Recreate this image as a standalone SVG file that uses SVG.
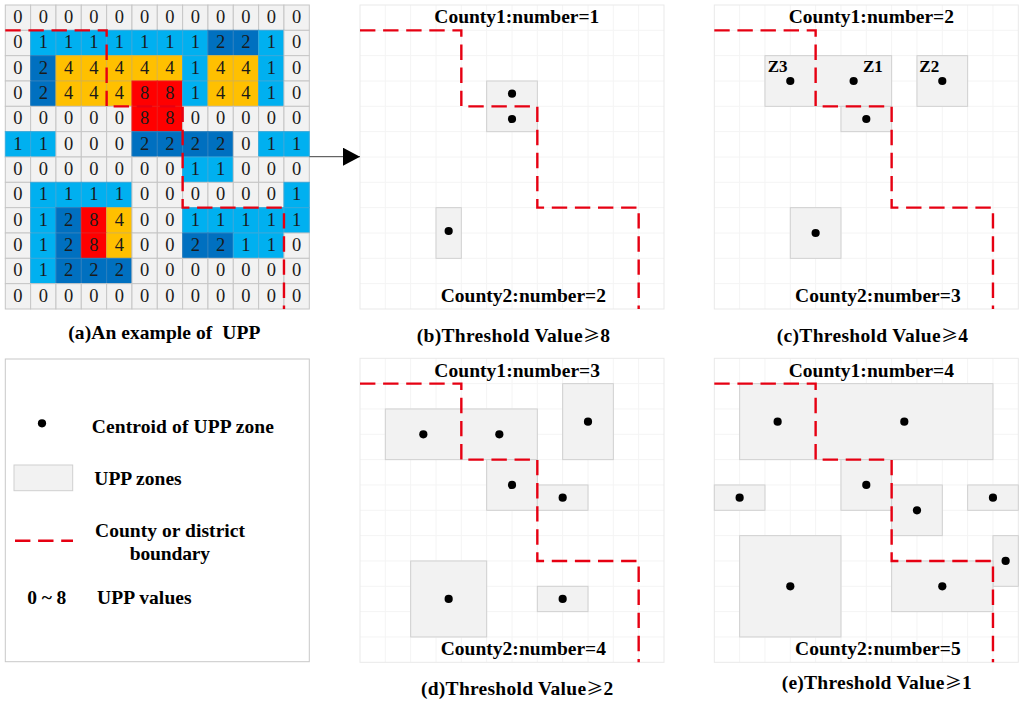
<svg xmlns="http://www.w3.org/2000/svg" xmlns:xlink="http://www.w3.org/1999/xlink" width="1024" height="703" viewBox="0 0 1024 703">
<style>
text{font-family:"Liberation Serif","Times New Roman",serif;fill:#000}
.t{font-weight:bold;font-size:19.5px}
.ge{font-family:"Noto Sans CJK SC","Liberation Serif",serif;font-weight:400;font-size:17px}
.l{font-weight:bold;font-size:17px}
.n{font-size:18.5px;text-anchor:middle;fill:#1a1a1a}
.c{width:25.33px;height:25.33px;y:-18px;stroke-width:1}
.z{fill:#f2f2f2;stroke:#c6c6c6}
.b{fill:#00b0f0;stroke:#35a9dc}
.d{fill:#0070c0;stroke:#2a7fbe}
.o{fill:#ffc000;stroke:#dcb440}
.r{fill:#ff0000;stroke:#ee1a1a}
.zone{fill:#f2f2f2;stroke:#d0d0d0;stroke-width:1}
.dot{fill:#000}
.bd{fill:none;stroke:#e60012;stroke-width:2.4;stroke-dasharray:15.4 7.7}
.gl{fill:none;stroke:#f4f4f4;stroke-width:1}
.fr{fill:none;stroke:#e9e9e9;stroke-width:1}
</style>
<defs>
<g id="pg">
<path class="gl" d="M25.33 0V304M50.67 0V304M76 0V304M101.33 0V304M126.67 0V304M152 0V304M177.33 0V304M202.67 0V304M228 0V304M253.33 0V304M278.67 0V304M0 25.33H304M0 50.67H304M0 76H304M0 101.33H304M0 126.67H304M0 152H304M0 177.33H304M0 202.67H304M0 228H304M0 253.33H304M0 278.67H304"/>
<rect class="fr" x="0" y="0" width="304" height="304"/>
</g>
<g id="bp">
<path class="bd" d="M0 25.33H101.33V101.33"/>
<path class="bd" stroke-dashoffset="16.1" d="M101.33 101.33H177.33V202.67H278.67V304"/>
</g>
<marker id="ah" markerUnits="userSpaceOnUse" markerWidth="18" markerHeight="18" refX="17" refY="9" orient="auto"><path d="M0 0L17 9L0 18Z" fill="#000"/></marker>
</defs>
<rect width="1024" height="703" fill="#fff"/>

<g id="panel-a">
<g transform="translate(5.3 23)"><rect class="c z" x="0"/><rect class="c z" x="25.33"/><rect class="c z" x="50.67"/><rect class="c z" x="76"/><rect class="c z" x="101.33"/><rect class="c z" x="126.67"/><rect class="c z" x="152"/><rect class="c z" x="177.33"/><rect class="c z" x="202.67"/><rect class="c z" x="228"/><rect class="c z" x="253.33"/><rect class="c z" x="278.67"/><text class="n" x="12.67">0</text><text class="n" x="38">0</text><text class="n" x="63.33">0</text><text class="n" x="88.67">0</text><text class="n" x="114">0</text><text class="n" x="139.33">0</text><text class="n" x="164.67">0</text><text class="n" x="190">0</text><text class="n" x="215.33">0</text><text class="n" x="240.67">0</text><text class="n" x="266">0</text><text class="n" x="291.33">0</text></g>
<g transform="translate(5.3 48.33)"><rect class="c z" x="0"/><rect class="c b" x="25.33"/><rect class="c b" x="50.67"/><rect class="c b" x="76"/><rect class="c b" x="101.33"/><rect class="c b" x="126.67"/><rect class="c b" x="152"/><rect class="c b" x="177.33"/><rect class="c d" x="202.67"/><rect class="c d" x="228"/><rect class="c b" x="253.33"/><rect class="c z" x="278.67"/><text class="n" x="12.67">0</text><text class="n" x="38">1</text><text class="n" x="63.33">1</text><text class="n" x="88.67">1</text><text class="n" x="114">1</text><text class="n" x="139.33">1</text><text class="n" x="164.67">1</text><text class="n" x="190">1</text><text class="n" x="215.33">2</text><text class="n" x="240.67">2</text><text class="n" x="266">1</text><text class="n" x="291.33">0</text></g>
<g transform="translate(5.3 73.67)"><rect class="c z" x="0"/><rect class="c d" x="25.33"/><rect class="c o" x="50.67"/><rect class="c o" x="76"/><rect class="c o" x="101.33"/><rect class="c o" x="126.67"/><rect class="c o" x="152"/><rect class="c b" x="177.33"/><rect class="c o" x="202.67"/><rect class="c o" x="228"/><rect class="c b" x="253.33"/><rect class="c z" x="278.67"/><text class="n" x="12.67">0</text><text class="n" x="38">2</text><text class="n" x="63.33">4</text><text class="n" x="88.67">4</text><text class="n" x="114">4</text><text class="n" x="139.33">4</text><text class="n" x="164.67">4</text><text class="n" x="190">1</text><text class="n" x="215.33">4</text><text class="n" x="240.67">4</text><text class="n" x="266">1</text><text class="n" x="291.33">0</text></g>
<g transform="translate(5.3 99)"><rect class="c z" x="0"/><rect class="c d" x="25.33"/><rect class="c o" x="50.67"/><rect class="c o" x="76"/><rect class="c o" x="101.33"/><rect class="c r" x="126.67"/><rect class="c r" x="152"/><rect class="c b" x="177.33"/><rect class="c o" x="202.67"/><rect class="c o" x="228"/><rect class="c b" x="253.33"/><rect class="c z" x="278.67"/><text class="n" x="12.67">0</text><text class="n" x="38">2</text><text class="n" x="63.33">4</text><text class="n" x="88.67">4</text><text class="n" x="114">4</text><text class="n" x="139.33">8</text><text class="n" x="164.67">8</text><text class="n" x="190">1</text><text class="n" x="215.33">4</text><text class="n" x="240.67">4</text><text class="n" x="266">1</text><text class="n" x="291.33">0</text></g>
<g transform="translate(5.3 124.33)"><rect class="c z" x="0"/><rect class="c z" x="25.33"/><rect class="c z" x="50.67"/><rect class="c z" x="76"/><rect class="c z" x="101.33"/><rect class="c r" x="126.67"/><rect class="c r" x="152"/><rect class="c z" x="177.33"/><rect class="c z" x="202.67"/><rect class="c z" x="228"/><rect class="c z" x="253.33"/><rect class="c z" x="278.67"/><text class="n" x="12.67">0</text><text class="n" x="38">0</text><text class="n" x="63.33">0</text><text class="n" x="88.67">0</text><text class="n" x="114">0</text><text class="n" x="139.33">8</text><text class="n" x="164.67">8</text><text class="n" x="190">0</text><text class="n" x="215.33">0</text><text class="n" x="240.67">0</text><text class="n" x="266">0</text><text class="n" x="291.33">0</text></g>
<g transform="translate(5.3 149.67)"><rect class="c b" x="0"/><rect class="c b" x="25.33"/><rect class="c z" x="50.67"/><rect class="c z" x="76"/><rect class="c z" x="101.33"/><rect class="c d" x="126.67"/><rect class="c d" x="152"/><rect class="c d" x="177.33"/><rect class="c d" x="202.67"/><rect class="c z" x="228"/><rect class="c b" x="253.33"/><rect class="c b" x="278.67"/><text class="n" x="12.67">1</text><text class="n" x="38">1</text><text class="n" x="63.33">0</text><text class="n" x="88.67">0</text><text class="n" x="114">0</text><text class="n" x="139.33">2</text><text class="n" x="164.67">2</text><text class="n" x="190">2</text><text class="n" x="215.33">2</text><text class="n" x="240.67">0</text><text class="n" x="266">1</text><text class="n" x="291.33">1</text></g>
<g transform="translate(5.3 175)"><rect class="c z" x="0"/><rect class="c z" x="25.33"/><rect class="c z" x="50.67"/><rect class="c z" x="76"/><rect class="c z" x="101.33"/><rect class="c z" x="126.67"/><rect class="c z" x="152"/><rect class="c b" x="177.33"/><rect class="c b" x="202.67"/><rect class="c z" x="228"/><rect class="c z" x="253.33"/><rect class="c z" x="278.67"/><text class="n" x="12.67">0</text><text class="n" x="38">0</text><text class="n" x="63.33">0</text><text class="n" x="88.67">0</text><text class="n" x="114">0</text><text class="n" x="139.33">0</text><text class="n" x="164.67">0</text><text class="n" x="190">1</text><text class="n" x="215.33">1</text><text class="n" x="240.67">0</text><text class="n" x="266">0</text><text class="n" x="291.33">0</text></g>
<g transform="translate(5.3 200.33)"><rect class="c z" x="0"/><rect class="c b" x="25.33"/><rect class="c b" x="50.67"/><rect class="c b" x="76"/><rect class="c b" x="101.33"/><rect class="c z" x="126.67"/><rect class="c z" x="152"/><rect class="c z" x="177.33"/><rect class="c z" x="202.67"/><rect class="c z" x="228"/><rect class="c z" x="253.33"/><rect class="c b" x="278.67"/><text class="n" x="12.67">0</text><text class="n" x="38">1</text><text class="n" x="63.33">1</text><text class="n" x="88.67">1</text><text class="n" x="114">1</text><text class="n" x="139.33">0</text><text class="n" x="164.67">0</text><text class="n" x="190">0</text><text class="n" x="215.33">0</text><text class="n" x="240.67">0</text><text class="n" x="266">0</text><text class="n" x="291.33">1</text></g>
<g transform="translate(5.3 225.67)"><rect class="c z" x="0"/><rect class="c b" x="25.33"/><rect class="c d" x="50.67"/><rect class="c r" x="76"/><rect class="c o" x="101.33"/><rect class="c z" x="126.67"/><rect class="c z" x="152"/><rect class="c b" x="177.33"/><rect class="c b" x="202.67"/><rect class="c b" x="228"/><rect class="c b" x="253.33"/><rect class="c b" x="278.67"/><text class="n" x="12.67">0</text><text class="n" x="38">1</text><text class="n" x="63.33">2</text><text class="n" x="88.67">8</text><text class="n" x="114">4</text><text class="n" x="139.33">0</text><text class="n" x="164.67">0</text><text class="n" x="190">1</text><text class="n" x="215.33">1</text><text class="n" x="240.67">1</text><text class="n" x="266">1</text><text class="n" x="291.33">1</text></g>
<g transform="translate(5.3 251)"><rect class="c z" x="0"/><rect class="c b" x="25.33"/><rect class="c d" x="50.67"/><rect class="c r" x="76"/><rect class="c o" x="101.33"/><rect class="c z" x="126.67"/><rect class="c z" x="152"/><rect class="c d" x="177.33"/><rect class="c d" x="202.67"/><rect class="c b" x="228"/><rect class="c b" x="253.33"/><rect class="c z" x="278.67"/><text class="n" x="12.67">0</text><text class="n" x="38">1</text><text class="n" x="63.33">2</text><text class="n" x="88.67">8</text><text class="n" x="114">4</text><text class="n" x="139.33">0</text><text class="n" x="164.67">0</text><text class="n" x="190">2</text><text class="n" x="215.33">2</text><text class="n" x="240.67">1</text><text class="n" x="266">1</text><text class="n" x="291.33">0</text></g>
<g transform="translate(5.3 276.33)"><rect class="c z" x="0"/><rect class="c b" x="25.33"/><rect class="c d" x="50.67"/><rect class="c d" x="76"/><rect class="c d" x="101.33"/><rect class="c z" x="126.67"/><rect class="c z" x="152"/><rect class="c z" x="177.33"/><rect class="c z" x="202.67"/><rect class="c z" x="228"/><rect class="c z" x="253.33"/><rect class="c z" x="278.67"/><text class="n" x="12.67">0</text><text class="n" x="38">1</text><text class="n" x="63.33">2</text><text class="n" x="88.67">2</text><text class="n" x="114">2</text><text class="n" x="139.33">0</text><text class="n" x="164.67">0</text><text class="n" x="190">0</text><text class="n" x="215.33">0</text><text class="n" x="240.67">0</text><text class="n" x="266">0</text><text class="n" x="291.33">0</text></g>
<g transform="translate(5.3 301.67)"><rect class="c z" x="0"/><rect class="c z" x="25.33"/><rect class="c z" x="50.67"/><rect class="c z" x="76"/><rect class="c z" x="101.33"/><rect class="c z" x="126.67"/><rect class="c z" x="152"/><rect class="c z" x="177.33"/><rect class="c z" x="202.67"/><rect class="c z" x="228"/><rect class="c z" x="253.33"/><rect class="c z" x="278.67"/><text class="n" x="12.67">0</text><text class="n" x="38">0</text><text class="n" x="63.33">0</text><text class="n" x="88.67">0</text><text class="n" x="114">0</text><text class="n" x="139.33">0</text><text class="n" x="164.67">0</text><text class="n" x="190">0</text><text class="n" x="215.33">0</text><text class="n" x="240.67">0</text><text class="n" x="266">0</text><text class="n" x="291.33">0</text></g>
<text class="t" x="68.3" y="339" textLength="192" xml:space="preserve">(a)An example of  UPP</text>
</g>

<g id="panel-b">
<use xlink:href="#pg" href="#pg" transform="translate(360 5)"/>
<g transform="translate(360 5)">
<g id="b-z1"><rect class="zone" x="126.67" y="76" width="50.67" height="50.67"/><circle class="dot" cx="152" cy="88.67" r="4.1"/><circle class="dot" cx="152" cy="114" r="4.1"/></g>
<g id="b-z2"><rect class="zone" x="76" y="202.67" width="25.33" height="50.67"/><circle class="dot" cx="88.67" cy="226" r="4.1"/></g>
</g>
<text class="t" x="434.3" y="23.3" textLength="165">County1:number=1</text>
<text class="t" x="440.7" y="301.7" textLength="165.3">County2:number=2</text>
<text class="t" x="416.7" y="341.7" textLength="193.3">(b)Threshold Value<tspan class="ge">≥</tspan>8</text>
</g>

<g id="panel-c">
<use xlink:href="#pg" href="#pg" transform="translate(714.3 5)"/>
<g transform="translate(714.3 5)">
<g id="c-z1"><rect class="zone" x="50.67" y="50.67" width="126.67" height="50.67"/><circle class="dot" cx="76" cy="76" r="4.1"/><circle class="dot" cx="139.33" cy="76" r="4.1"/></g>
<g id="c-z2"><rect class="zone" x="202.67" y="50.67" width="50.67" height="50.67"/><circle class="dot" cx="228" cy="76" r="4.1"/></g>
<g id="c-z3"><rect class="zone" x="126.67" y="101.33" width="50.67" height="25.33"/><circle class="dot" cx="152" cy="114" r="4.1"/></g>
<g id="c-z4"><rect class="zone" x="76" y="202.67" width="50.67" height="50.67"/><circle class="dot" cx="101.33" cy="228" r="4.1"/></g>
</g>
<text class="l" x="767.7" y="72">Z3</text>
<text class="l" x="863" y="72">Z1</text>
<text class="l" x="919.3" y="72">Z2</text>
<text class="t" x="788.7" y="23.3" textLength="165.3">County1:number=2</text>
<text class="t" x="795" y="301.7" textLength="165.7">County2:number=3</text>
<text class="t" x="776.7" y="341.7" textLength="191.3">(c)Threshold Value<tspan class="ge">≥</tspan>4</text>
</g>

<g id="panel-d">
<use xlink:href="#pg" href="#pg" transform="translate(360 358.3)"/>
<g transform="translate(360 358.3)">
<g id="d-z1"><rect class="zone" x="25.33" y="50.67" width="152" height="50.67"/><circle class="dot" cx="63.33" cy="76" r="4.1"/><circle class="dot" cx="139.33" cy="76" r="4.1"/></g>
<g id="d-z2"><rect class="zone" x="202.67" y="25.33" width="50.67" height="76"/><circle class="dot" cx="228" cy="63.33" r="4.1"/></g>
<g id="d-z3"><rect class="zone" x="126.67" y="101.33" width="50.67" height="50.67"/><circle class="dot" cx="152" cy="126.67" r="4.1"/></g>
<g id="d-z4"><rect class="zone" x="177.33" y="126.67" width="50.67" height="25.33"/><circle class="dot" cx="202.67" cy="139.33" r="4.1"/></g>
<g id="d-z5"><rect class="zone" x="50.67" y="202.67" width="76" height="76"/><circle class="dot" cx="88.67" cy="240.67" r="4.1"/></g>
<g id="d-z6"><rect class="zone" x="177.33" y="228" width="50.67" height="25.33"/><circle class="dot" cx="202.67" cy="240.67" r="4.1"/></g>
</g>
<text class="t" x="434.3" y="377.3" textLength="165.7">County1:number=3</text>
<text class="t" x="440.7" y="655" textLength="165.3">County2:number=4</text>
<text class="t" x="421" y="695" textLength="192.3">(d)Threshold Value<tspan class="ge">≥</tspan>2</text>
</g>

<g id="panel-e">
<use xlink:href="#pg" href="#pg" transform="translate(714.3 358.3)"/>
<g transform="translate(714.3 358.3)">
<g id="e-z1"><rect class="zone" x="25.33" y="25.33" width="253.33" height="76"/><circle class="dot" cx="63.33" cy="63.33" r="4.1"/><circle class="dot" cx="190" cy="63.33" r="4.1"/></g>
<g id="e-z2"><rect class="zone" x="0" y="126.67" width="50.67" height="25.33"/><circle class="dot" cx="25.33" cy="139.33" r="4.1"/></g>
<g id="e-z3"><rect class="zone" x="126.67" y="101.33" width="50.67" height="50.67"/><circle class="dot" cx="152" cy="126.67" r="4.1"/></g>
<g id="e-z4"><rect class="zone" x="177.33" y="126.67" width="50.67" height="50.67"/><circle class="dot" cx="202.67" cy="152" r="4.1"/></g>
<g id="e-z5"><rect class="zone" x="253.33" y="126.67" width="50.67" height="25.33"/><circle class="dot" cx="278.67" cy="139.33" r="4.1"/></g>
<g id="e-z6"><rect class="zone" x="278.67" y="177.33" width="25.33" height="50.67"/><circle class="dot" cx="291.33" cy="202.67" r="4.1"/></g>
<g id="e-z7"><rect class="zone" x="177.33" y="202.67" width="101.33" height="50.67"/><circle class="dot" cx="228" cy="228" r="4.1"/></g>
<g id="e-z8"><rect class="zone" x="25.33" y="177.33" width="101.33" height="101.33"/><circle class="dot" cx="76" cy="228" r="4.1"/></g>
</g>
<text class="t" x="788.7" y="377.3" textLength="165.3">County1:number=4</text>
<text class="t" x="795" y="655" textLength="165.7">County2:number=5</text>
<text class="t" x="781.7" y="689.3" textLength="190">(e)Threshold Value<tspan class="ge">≥</tspan>1</text>
</g>

<g id="legend">
<rect x="5.3" y="359" width="304" height="302.7" fill="#fff" stroke="#c8c8c8" stroke-width="1"/>
<g id="legend-centroid"><circle class="dot" cx="42" cy="423.3" r="4.1"/><text class="t" x="91.7" y="432.7" textLength="182.3">Centroid of UPP zone</text></g>
<g id="legend-zone"><rect class="zone" x="14" y="465" width="58.7" height="25.7"/><text class="t" x="94.3" y="485" textLength="87.4">UPP zones</text></g>
<g id="legend-boundary"><path class="bd" d="M15 540.7H73"/><text class="t" x="95" y="537.3" textLength="150">County or district</text><text class="t" x="129.7" y="560" textLength="80.3">boundary</text></g>
<g id="legend-values"><text class="t" x="27.3" y="604" textLength="39">0 ~ 8</text><text class="t" x="97" y="604" textLength="94.7">UPP values</text></g>
</g>

<g id="connectors">
<use xlink:href="#bp" href="#bp" transform="translate(5.3 5)"/>
<use xlink:href="#bp" href="#bp" transform="translate(360 5)"/>
<use xlink:href="#bp" href="#bp" transform="translate(714.3 5)"/>
<use xlink:href="#bp" href="#bp" transform="translate(360 358.3)"/>
<use xlink:href="#bp" href="#bp" transform="translate(714.3 358.3)"/>
<line x1="309.5" y1="156.7" x2="360" y2="156.7" stroke="#404040" stroke-width="1" marker-end="url(#ah)"/>
</g>
</svg>
